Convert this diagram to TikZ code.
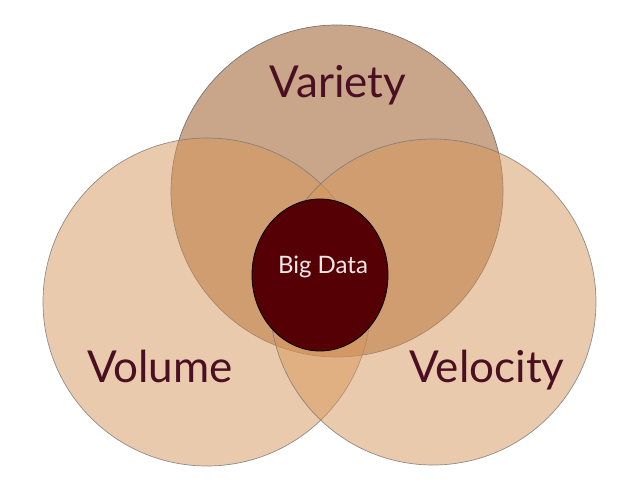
\documentclass[tikz,border=0pt]{standalone}
\usepackage{fontspec}
\setmainfont{Lato}
\usepackage{tikz}
\usetikzlibrary{positioning}
\definecolor{topfill}{RGB}{201,166,137}
\definecolor{sidefill}{RGB}{215,150,90}
\definecolor{rimgray}{RGB}{120,120,120}
\definecolor{coremaroon}{RGB}{85,0,5}
\definecolor{labelclr}{RGB}{75,15,35}
\definecolor{corelabel}{RGB}{242,232,232}
\tikzset{
  % outer circles
  topset/.style  = {fill=topfill, draw=rimgray, line width=0.7pt},
  sideset/.style = {fill=sidefill, fill opacity=0.5, draw=rimgray, draw opacity=0.8, line width=0.7pt},
  % inner circle
  coreset/.style = {fill=coremaroon, draw=black, line width=0.8pt},
  % labels
  biglab/.style  = {font=\fontsize{44}{48}\selectfont, text=labelclr, anchor=base, inner sep=0pt},
  corelab/.style = {font=\fontsize{24}{28}\selectfont, text=corelabel, anchor=base, inner sep=0pt},
}
\begin{document}
\begin{tikzpicture}[x=1pt,y=-1pt]
  \useasboundingbox (0,0) rectangle (630,487);
  \fill[white] (0,0) rectangle (630,487);
  \coordinate (T) at (337,191);
  \coordinate (L) at (207,302);
  \coordinate (R) at (433,302);
  \coordinate (C) at (320,275);
  % Circles
  \draw[topset] (T) circle[radius=166];
  \draw[sideset] (L) circle[radius=164];
  \draw[sideset] (R) circle[radius=163];
  \draw[coreset] (C) ellipse[x radius=68, y radius=76];
  % Labels
  \node[biglab] (variety) at (338,98) {Variety};
  \node[biglab] (volume) at (160,382) {Volume};
  \node[biglab] (velocity) at (487,382) {Velocity};
  \node[corelab] (bigdata) at (323,273) {Big Data};
\end{tikzpicture}
\end{document}
